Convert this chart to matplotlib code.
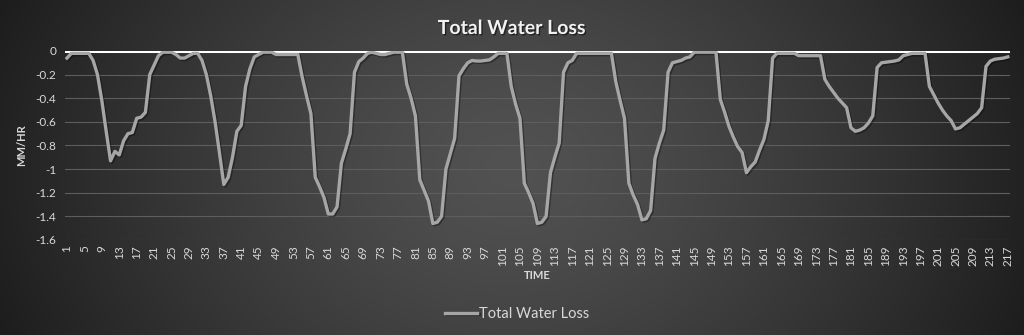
import numpy as np
import matplotlib.pyplot as plt
import matplotlib.patheffects as pe

# Total water loss per time step (MM/HR)
loss_1_50 = [-0.06, -0.02, -0.02, -0.02, -0.02, -0.02, -0.08, -0.2, -0.42, -0.68,
             -0.93, -0.85, -0.88, -0.76, -0.70, -0.69, -0.57, -0.56, -0.52, -0.2,
             -0.12, -0.04, -0.01, -0.01, -0.01, -0.03, -0.06, -0.06, -0.04, -0.02,
             -0.02, -0.08, -0.2, -0.38, -0.6, -0.86, -1.13, -1.07, -0.9, -0.68,
             -0.63, -0.3, -0.15, -0.05, -0.03, -0.01, -0.01, -0.01, -0.03, -0.03]
loss_51_100 = [-0.03, -0.03, -0.03, -0.03, -0.22, -0.38, -0.53, -1.07, -1.15, -1.24,
               -1.38, -1.38, -1.32, -0.95, -0.83, -0.70, -0.18, -0.09, -0.06, -0.02,
               -0.01, -0.02, -0.03, -0.03, -0.02, -0.01, -0.01, -0.01, -0.28, -0.4,
               -0.55, -1.09, -1.18, -1.27, -1.46, -1.45, -1.40, -1.0, -0.87, -0.74,
               -0.21, -0.15, -0.1, -0.08, -0.085, -0.085, -0.08, -0.075, -0.05, -0.02]
loss_101_150 = [-0.02, -0.02, -0.3, -0.45, -0.57, -1.12, -1.2, -1.29, -1.46, -1.45,
                -1.40, -1.03, -0.9, -0.78, -0.18, -0.1, -0.08, -0.02, -0.02, -0.02,
                -0.02, -0.02, -0.02, -0.02, -0.02, -0.02, -0.26, -0.42, -0.57, -1.12,
                -1.22, -1.30, -1.43, -1.42, -1.35, -0.91, -0.78, -0.67, -0.18, -0.1,
                -0.09, -0.08, -0.06, -0.05, -0.01, -0.01, -0.01, -0.01, -0.01, -0.01]
loss_151_217 = [-0.41, -0.52, -0.64, -0.73, -0.81, -0.86, -1.03, -0.98, -0.94, -0.84,
                -0.75, -0.59, -0.06, -0.02, -0.02, -0.02, -0.02, -0.02, -0.04, -0.04,
                -0.04, -0.04, -0.04, -0.04, -0.24, -0.3, -0.35, -0.4, -0.44, -0.48,
                -0.65, -0.68, -0.67, -0.65, -0.61, -0.55, -0.14, -0.1, -0.095, -0.09,
                -0.085, -0.075, -0.04, -0.03, -0.02, -0.02, -0.02, -0.02, -0.3, -0.37,
                -0.44, -0.5, -0.55, -0.59, -0.66, -0.65, -0.62, -0.59, -0.56, -0.53,
                -0.48, -0.13, -0.085, -0.07, -0.065, -0.06, -0.05]

water_loss = loss_1_50 + loss_51_100 + loss_101_150 + loss_151_217
time = list(range(1, len(water_loss) + 1))
x_ticks = list(range(1, 218, 4))
y_ticks = [0, -0.2, -0.4, -0.6, -0.8, -1, -1.2, -1.4, -1.6]
y_tick_labels = ["0", "-0.2", "-0.4", "-0.6", "-0.8", "-1", "-1.2", "-1.4", "-1.6"]

plt.rcParams["font.family"] = ["Lato", "DejaVu Sans"]
text_col = "#d9d9d9"

fig = plt.figure(figsize=(10.24, 3.35), dpi=100)

# Dark radial background
bg = fig.add_axes([0, 0, 1, 1], zorder=-10)
gx, gy = np.meshgrid(np.linspace(0, 1, 512), np.linspace(0, 1, 200))
d = np.sqrt(((gx - 0.5) / 0.55) ** 2 + ((gy - 0.5) / 1.3) ** 2)
shade = np.clip(0x52 - (0x52 - 0x1c) * d ** 1.3, 0x1c, 0x52) / 255.0
bg.imshow(np.dstack([shade, shade, shade]), aspect="auto", extent=[0, 1, 0, 1])
bg.axis("off")

ax = fig.add_axes([0.0633, 0.2836, 0.923, 0.5642])
ax.set_facecolor("none")

ax.plot(time, water_loss, color="#a6a6a6", linewidth=2.4, label="Total Water Loss",
        solid_joinstyle="round",
        path_effects=[pe.SimpleLineShadow(offset=(1, -1), shadow_color="black", alpha=0.35),
                      pe.Normal()])

ax.set_xlim(0.5, len(water_loss) + 0.5)
ax.set_ylim(-1.6, 0)
ax.set_xticks(x_ticks)
ax.set_xticklabels([str(t) for t in x_ticks], rotation=90)
ax.set_yticks(y_ticks)
ax.set_yticklabels(y_tick_labels)
ax.tick_params(axis="both", length=0, colors=text_col, labelsize=8.5)
ax.tick_params(axis="y", pad=6)
ax.tick_params(axis="x", pad=4)

ax.grid(axis="y", color="#5e5e5e", linewidth=0.8)
ax.set_axisbelow(True)
for side in ["left", "right", "bottom", "top"]:
    ax.spines[side].set_visible(False)
ax.axhline(0, color="white", linewidth=2.2, zorder=1)

ax.set_ylabel("MM/HR", color=text_col, fontsize=8, fontweight="bold", labelpad=6)
ax.set_xlabel("TIME", color=text_col, fontsize=8, fontweight="bold", labelpad=3)

fig.text(0.5, 0.915, "Total Water Loss", ha="center", va="center", color="#f2f2f2",
         fontsize=14, fontweight="bold",
         path_effects=[pe.withSimplePatchShadow(offset=(1, -1), shadow_rgbFace="black", alpha=0.5)])

handles, labels = ax.get_legend_handles_labels()
leg = fig.legend(handles, labels, loc="center", bbox_to_anchor=(0.505, 0.063),
                 frameon=False, fontsize=10.5, handlelength=2.2, handletextpad=0.1)
for t in leg.get_texts():
    t.set_color(text_col)

fig.savefig("out.png", dpi=100)
